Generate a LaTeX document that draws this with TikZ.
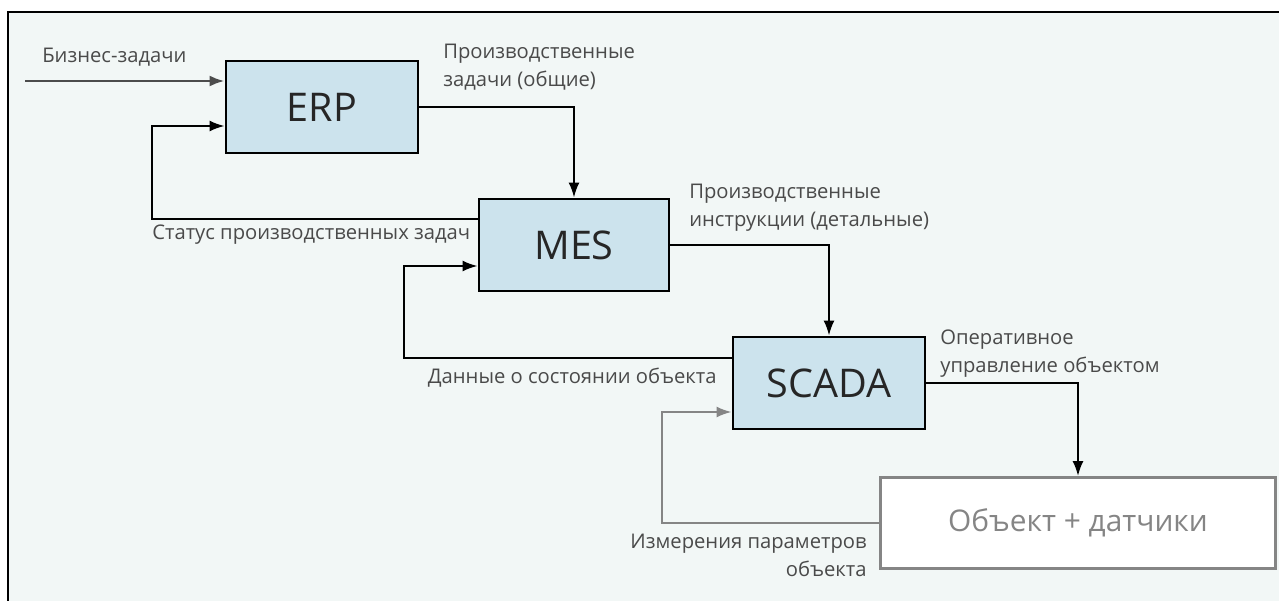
\documentclass[tikz,border=0pt]{standalone}
\usepackage{fontspec}
\setmainfont{Open Sans}
\usetikzlibrary{arrows.meta,positioning,calc}
\definecolor{PaleMint}{HTML}{F2F7F6}
\definecolor{BoxBlue}{HTML}{CCE3ED}
\definecolor{LabelGray}{HTML}{4A4A4A}
\definecolor{ObjGray}{HTML}{858585}

\begin{document}
\begin{tikzpicture}[x=0.02cm, y=-0.02cm,
    sys/.style={draw=black, fill=BoxBlue, line width=1.6pt, minimum width=3.84cm, minimum height=1.84cm, font=\fontsize{22.5}{26}\selectfont, text=black!85},
    flow/.style={-{Latex[length=0.3cm,width=0.22cm]}, line width=1.25pt},
    lbl/.style={font=\fontsize{11.5}{16}\selectfont, text=LabelGray, align=left, inner sep=0pt}]
    \useasboundingbox (0,0) rectangle (1279,601);
    \clip (0,0) rectangle (1279,601);
    \draw[line width=1.7pt, fill=PaleMint] (8,12) rectangle (1300,620);

    % systems
    \node[sys] (erp) at (322,107) {ERP};
    \node[sys, minimum width=3.8cm] (mes) at (574,245) {MES};
    \node[sys] (scada) at (829,383) {SCADA};
    \node[draw=ObjGray, fill=white, line width=1.6pt, minimum width=7.9cm, minimum height=1.82cm, font=\fontsize{17}{20}\selectfont, text=ObjGray] (obj) at (1078,523) {Объект + датчики};

    % connectors
    \coordinate (bizin) at (25,81);
    \coordinate (stat) at (152,219);
    \coordinate (data) at (404,358);
    \coordinate (meas) at (662,523);
    \draw[flow, black!70, line width=1.6pt] (bizin) -- (bizin -| erp.west);
    \draw[flow] (erp.east) -| (mes.north);
    \draw[flow] (stat -| mes.west) -- (stat) |- ([yshift=-0.38cm]erp.west);
    \draw[flow] (mes.east) -| (scada.north);
    \draw[flow] (data -| scada.west) -- (data) |- ([yshift=-0.42cm]mes.west);
    \draw[flow] (scada.east) -| (obj.north);
    \draw[flow, ObjGray] (obj.west) -- (meas) |- ([yshift=-0.58cm]scada.west);

    % labels
    \node[lbl, anchor=west] (biztext) at (42,57) {Бизнес-задачи};
    \node[lbl, anchor=west] (erptask) at (443,67) {Производственные\\задачи (общие)};
    \node[lbl, anchor=west] (stattext) at (152,235) {Статус производственных задач};
    \node[lbl, anchor=west] (mestask) at (689,208) {Производственные\\инструкции (детальные)};
    \node[lbl, anchor=east] (datatext) at (717,378) {Данные о состоянии объекта};
    \node[lbl, anchor=west] (ctrltext) at (940,354) {Оперативное\\управление объектом};
    \node[lbl, anchor=east, align=right] (meastext) at (867,555) {Измерения параметров\\объекта};
\end{tikzpicture}
\end{document}
